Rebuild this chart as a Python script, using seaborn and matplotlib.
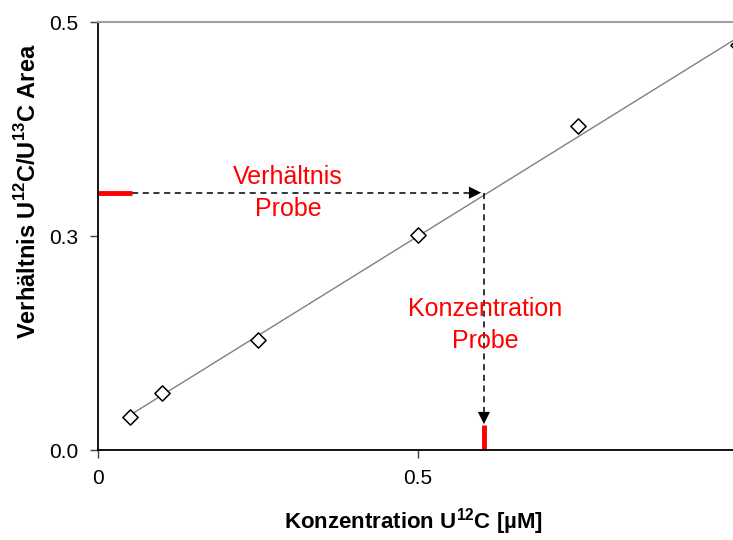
import numpy as np
import pandas as pd
import matplotlib
matplotlib.use("Agg")
import matplotlib.pyplot as plt
import seaborn as sns

# Kalibrierung: Konzentration vs. Verhältnis
konzentration = [0.05, 0.1, 0.25, 0.5, 0.75, 1.0]
verhaeltnis = [0.038, 0.067, 0.1285, 0.251, 0.3785, 0.473]

y_ticks = [0.0, 0.25, 0.5]
y_ticklabels = ["0.0", "0.3", "0.5"]
x_ticks = [0, 0.5]
x_ticklabels = ["0", "0.5"]

# Probe
probe_verhaeltnis = 0.3006
probe_konzentration = 0.603

df = pd.DataFrame({"x": konzentration, "y": verhaeltnis})

sns.set_style("ticks")
plt.rcParams["font.family"] = ["Liberation Sans", "DejaVu Sans"]
plt.rcParams["mathtext.fontset"] = "custom"
plt.rcParams["mathtext.rm"] = "Liberation Sans"
plt.rcParams["mathtext.bf"] = "Liberation Sans:bold"

fig = plt.figure(figsize=(7.33, 5.4), dpi=100)
ax = fig.add_axes([98 / 733, 90 / 540, 640 / 733, 428 / 540])

sns.regplot(data=df, x="x", y="y", scatter=False, ci=None, ax=ax,
            line_kws={"color": "#808080", "lw": 1.0})
sns.scatterplot(data=df, x="x", y="y", marker="D", s=60, facecolor="white",
                edgecolor="black", linewidth=1.1, ax=ax, zorder=5, clip_on=False)

# Hilfslinien
ax.plot([0.053, probe_konzentration - 0.01], [probe_verhaeltnis, probe_verhaeltnis],
        ls=(0, (4, 3)), color="black", lw=1.1)
ax.plot([probe_konzentration, probe_konzentration], [probe_verhaeltnis, 0.035],
        ls=(0, (4, 3)), color="black", lw=1.1)
ax.annotate("", xy=(probe_konzentration, probe_verhaeltnis),
            xytext=(probe_konzentration - 0.03, probe_verhaeltnis),
            arrowprops=dict(arrowstyle="-|>", color="black", lw=0, mutation_scale=22))
ax.annotate("", xy=(probe_konzentration, 0.027),
            xytext=(probe_konzentration, 0.06),
            arrowprops=dict(arrowstyle="-|>", color="black", lw=0, mutation_scale=22))
ax.plot([0, 0.053], [probe_verhaeltnis, probe_verhaeltnis], color="#ff0000", lw=3.5,
        solid_capstyle="butt")
ax.plot([probe_konzentration, probe_konzentration], [0, 0.029], color="#ff0000", lw=3.5,
        solid_capstyle="butt")

ax.text(0.297, 0.300, "Verhältnis\nProbe", color="#ff0000", fontsize=18,
        ha="center", va="center", linespacing=1.45)
ax.text(0.605, 0.146, "Konzentration\nProbe", color="#ff0000", fontsize=18,
        ha="center", va="center", linespacing=1.45)

ax.set_xlim(0, 1.0)
ax.set_ylim(0, 0.5)
ax.set_xticks(x_ticks)
ax.set_xticklabels(x_ticklabels)
ax.set_yticks(y_ticks)
ax.set_yticklabels(y_ticklabels)
ax.tick_params(labelsize=15, length=6, width=1, color="#404040", labelcolor="black", pad=8)
ax.set_xlabel("")
ax.set_ylabel("")

for side in ["left", "bottom"]:
    ax.spines[side].set_color("black")
    ax.spines[side].set_linewidth(1.3)
ax.spines["top"].set_visible(True)
ax.spines["top"].set_color("#a0a0a0")
ax.spines["top"].set_linewidth(1.5)
ax.spines["right"].set_visible(False)

fig.text(414 / 733, 1 - 522 / 540, r"Konzentration U$^{\mathbf{12}}$C [µM]",
         ha="center", va="center", fontsize=16, fontweight="bold", color="black")
fig.text(28 / 733, 1 - 191 / 540,
         r"Verhältnis U$^{\mathbf{12}}$C/U$^{\mathbf{13}}$C Area",
         ha="center", va="center", rotation=90, fontsize=17, fontweight="bold",
         color="black")

fig.savefig("out.png", dpi=100)
